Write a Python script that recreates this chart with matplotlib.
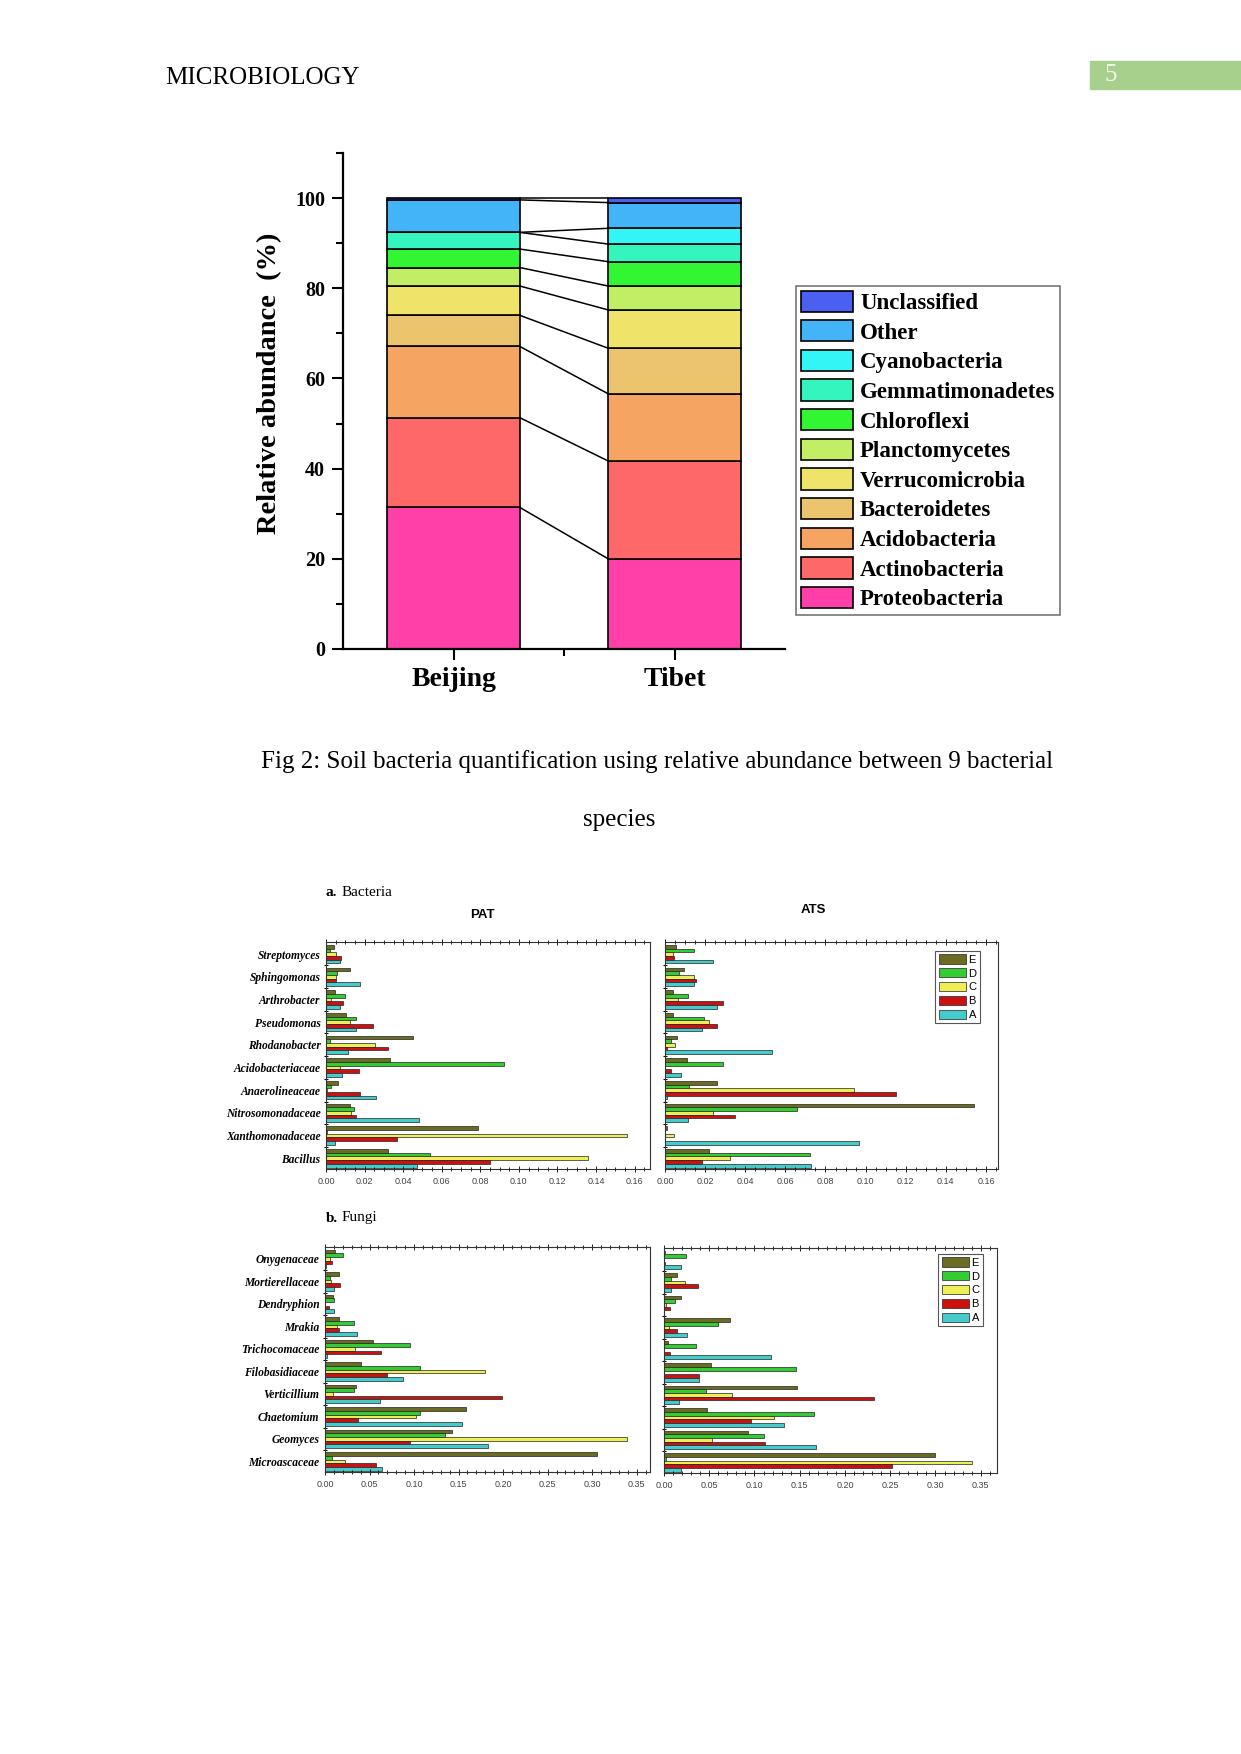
import numpy as np
import matplotlib
matplotlib.use('Agg')
import matplotlib.pyplot as plt
from matplotlib.patches import Rectangle
from matplotlib.ticker import MultipleLocator, FixedLocator

# ---- data: stacked phylum abundance (%), bottom -> top
phyla = ['Proteobacteria', 'Actinobacteria', 'Acidobacteria', 'Bacteroidetes',
         'Verrucomicrobia', 'Planctomycetes', 'Chloroflexi', 'Gemmatimonadetes',
         'Cyanobacteria', 'Other', 'Unclassified']
beijing = [31.4, 19.9, 15.8, 6.9, 6.5, 4.1, 4.1, 3.7, 0.0, 7.2, 0.4]
tibet = [20.0, 21.7, 14.9, 10.1, 8.5, 5.3, 5.4, 3.9, 3.5, 5.7, 1.0]
sites = ['Beijing', 'Tibet']
phyla_colors = ['#fe40a8', '#ff6868', '#f5a462', '#edc46e', '#f0e36a', '#c2ee66',
                '#33f633', '#33f5bd', '#33f5f5', '#44b4f8', '#4b5ff0']

# ---- data: genus/family abundance, groups E..A
series = ['E', 'D', 'C', 'B', 'A']
series_colors = ['#6b6b22', '#33cc33', '#eeee55', '#cc1111', '#44cccc']

bact_cats = ['Streptomyces', 'Sphingomonas', 'Arthrobacter', 'Pseudomonas', 'Rhodanobacter',
             'Acidobacteriaceae', 'Anaerolineaceae', 'Nitrosomonadaceae', 'Xanthomonadaceae', 'Bacillus']
pat_E = [0.004, 0.0125, 0.0045, 0.0104, 0.045, 0.0334, 0.0062, 0.0127, 0.079, 0.032]
pat_D = [0.002, 0.0055, 0.0097, 0.0156, 0.002, 0.0925, 0.0026, 0.0147, 0.0007, 0.054]
pat_C = [0.005, 0.0054, 0.0026, 0.0127, 0.0255, 0.007, 0.0005, 0.013, 0.156, 0.1357]
pat_B = [0.0078, 0.0052, 0.0088, 0.0243, 0.032, 0.017, 0.0178, 0.0158, 0.037, 0.085]
pat_A = [0.007, 0.0175, 0.0075, 0.0158, 0.0114, 0.0081, 0.026, 0.048, 0.0049, 0.047]

ats_E = [0.0053, 0.0093, 0.004, 0.0038, 0.0058, 0.011, 0.0257, 0.154, 0.001, 0.022]
ats_D = [0.0143, 0.0071, 0.0116, 0.0194, 0.0028, 0.0287, 0.0121, 0.066, 0.0, 0.0723]
ats_C = [0.004, 0.0146, 0.0066, 0.022, 0.005, 0.0, 0.094, 0.024, 0.0045, 0.0323]
ats_B = [0.0045, 0.0154, 0.0287, 0.0257, 0.0008, 0.003, 0.115, 0.035, 0.0, 0.0182]
ats_A = [0.024, 0.0144, 0.0259, 0.0186, 0.0534, 0.008, 0.001, 0.0116, 0.0965, 0.0728]

fungi_cats = ['Onygenaceae', 'Mortierellaceae', 'Dendryphion', 'Mrakia', 'Trichocomaceae',
              'Filobasidiaceae', 'Verticillium', 'Chaetomium', 'Geomyces', 'Microascaceae']
fpat_E = [0.011, 0.016, 0.009, 0.0157, 0.054, 0.040, 0.0347, 0.158, 0.143, 0.305]
fpat_D = [0.0205, 0.0056, 0.0105, 0.0325, 0.095, 0.1064, 0.0325, 0.107, 0.135, 0.0075]
fpat_C = [0.0056, 0.007, 0.0, 0.013, 0.034, 0.18, 0.0093, 0.1027, 0.3394, 0.0228]
fpat_B = [0.0082, 0.0168, 0.0049, 0.0153, 0.063, 0.0698, 0.1987, 0.0366, 0.096, 0.0568]
fpat_A = [0.001, 0.0105, 0.01, 0.0355, 0.0026, 0.0874, 0.062, 0.154, 0.183, 0.0642]

fats_E = [0.0015, 0.014, 0.0184, 0.0732, 0.0044, 0.052, 0.147, 0.0478, 0.0923, 0.2998]
fats_D = [0.0243, 0.0077, 0.0121, 0.0592, 0.0353, 0.1464, 0.046, 0.166, 0.1107, 0.002]
fats_C = [0.0, 0.0235, 0.002, 0.005, 0.0, 0.0, 0.075, 0.1218, 0.053, 0.3407]
fats_B = [0.0015, 0.0375, 0.007, 0.0143, 0.0066, 0.0383, 0.2318, 0.0957, 0.1118, 0.2524]
fats_A = [0.019, 0.0081, 0.0, 0.0254, 0.118, 0.039, 0.0162, 0.1328, 0.1685, 0.0191]

W, H = 1241, 1754
fig = plt.figure(figsize=(W / 100, H / 100), dpi=100)
serif = 'Liberation Serif'
sans = 'Liberation Sans'


def box(l, t, r, b):
    # pixel box -> figure fraction
    return [l / W, 1 - b / H, (r - l) / W, (b - t) / H]


# page header
fig.text(165 / W, 1 - 84 / H, 'MICROBIOLOGY', family=serif, fontsize=18, va='baseline')
fig.patches.append(Rectangle((1090 / W, 1 - 89 / H), 151 / W, 28 / H,
                             transform=fig.transFigure, color='#a8d08d', zorder=0))
fig.text(1111 / W, 1 - 75 / H, '5', family=serif, fontsize=18, color='#f4faee',
         ha='center', va='center')

# ---- stacked bar chart
ax = fig.add_axes(box(343, 153, 785, 649))
x = np.arange(len(sites))
bw = 0.6
data = np.array([beijing, tibet])
bottom = np.zeros(len(sites))
for i, name in enumerate(phyla):
    ax.bar(x, data[:, i], bw, bottom=bottom, color=phyla_colors[i],
           edgecolor='black', linewidth=1.2, label=name, zorder=2)
    bottom = bottom + data[:, i]
    # connecting line between the two bars
    ax.plot([x[0] + bw / 2, x[1] - bw / 2], [bottom[0], bottom[1]],
            color='black', linewidth=1.1, zorder=1)

ax.set_xlim(-0.5, 1.5)
ax.set_ylim(0, 110)
for s in ['top', 'right']:
    ax.spines[s].set_visible(False)
for s in ['left', 'bottom']:
    ax.spines[s].set_linewidth(1.6)
ax.set_xticks(x)
ax.set_xticklabels(sites, family=serif, fontweight='bold', fontsize=20)
ax.xaxis.set_minor_locator(FixedLocator([0.5]))
ax.yaxis.set_major_locator(MultipleLocator(20))
ax.yaxis.set_minor_locator(MultipleLocator(10))
ax.tick_params(which='major', length=8, width=1.5, pad=5)
ax.tick_params(which='minor', length=5, width=1.5)
for t in ax.get_yticklabels():
    t.set_family(serif)
    t.set_fontweight('bold')
    t.set_fontsize(14.5)
ax.set_ylabel('Relative abundance  (%)', family=serif, fontweight='bold', fontsize=20.5)
ax.yaxis.set_label_coords(-0.137, 0.535)

handles, labels = ax.get_legend_handles_labels()
leg = fig.legend(handles[::-1], labels[::-1], loc='upper left',
                 bbox_to_anchor=(796 / W, 1 - 286 / H), bbox_transform=fig.transFigure,
                 prop={'family': serif, 'weight': 'bold', 'size': 16.5},
                 handlelength=2.3, handleheight=1.05, labelspacing=0.27,
                 handletextpad=0.3, borderpad=0.2, borderaxespad=0,
                 fancybox=False, edgecolor='#777777', framealpha=1)
leg.get_frame().set_linewidth(1.2)

# caption
fig.text(657 / W, 1 - 762 / H,
         'Fig 2: Soil bacteria quantification using relative abundance between 9 bacterial',
         family=serif, fontsize=18, ha='center', va='center')
fig.text(619 / W, 1 - 820 / H, 'species', family=serif, fontsize=18, ha='center', va='center')


# ---- grouped horizontal bars
def panel(ax, cats, vals, xmax, major, minor, show_cats, legend_anchor):
    n = len(cats)
    y = np.arange(n)
    h = 0.162
    for k, (name, v) in enumerate(zip(series, vals)):
        ax.barh(y + (k - 2) * h, v, h, color=series_colors[k], edgecolor='#222222',
                linewidth=0.5, label=name)
    ax.set_ylim(n - 0.53, -0.53)
    ax.set_xlim(0, xmax)
    ax.xaxis.set_major_locator(MultipleLocator(major))
    ax.xaxis.set_minor_locator(MultipleLocator(minor))
    ax.xaxis.set_major_formatter(plt.FormatStrFormatter('%.2f'))
    ax.tick_params(axis='x', which='both', top=True, direction='inout', labelsize=6.5,
                   labelcolor='#444444', pad=3)
    ax.tick_params(axis='x', which='major', length=5, width=0.6)
    ax.tick_params(axis='x', which='minor', length=3, width=0.6)
    for t in ax.get_xticklabels():
        t.set_family(sans)
    ax.set_yticks(y)
    ax.yaxis.set_minor_locator(FixedLocator(y[:-1] + 0.5))
    ax.tick_params(axis='y', which='major', length=0, pad=4)
    ax.tick_params(axis='y', which='minor', length=3, width=0.8, direction='inout')
    if show_cats:
        ax.set_yticklabels(cats, family=serif, fontweight='bold', style='italic', fontsize=8.3)
    else:
        ax.set_yticklabels([])
    for s in ax.spines.values():
        s.set_linewidth(0.8)
        s.set_color('#333333')
    if legend_anchor is not None:
        lg = ax.legend(loc='upper right', bbox_to_anchor=legend_anchor, prop={'family': sans, 'size': 8},
                       handlelength=2.5, handleheight=0.9, labelspacing=0.3, handletextpad=0.2,
                       borderpad=0.3, borderaxespad=0, fancybox=False, edgecolor='#555555',
                       framealpha=1)
        lg.get_frame().set_linewidth(0.8)


ax1 = fig.add_axes(box(326, 942, 650, 1169))
panel(ax1, bact_cats, [pat_E, pat_D, pat_C, pat_B, pat_A], 0.168, 0.02, 0.005, True, None)
ax2 = fig.add_axes(box(665, 942, 998, 1169))
panel(ax2, bact_cats, [ats_E, ats_D, ats_C, ats_B, ats_A], 0.166, 0.02, 0.005, False, (0.946, 0.96))
ax3 = fig.add_axes(box(325, 1247, 650, 1472))
panel(ax3, fungi_cats, [fpat_E, fpat_D, fpat_C, fpat_B, fpat_A], 0.365, 0.05, 0.01, True, None)
ax4 = fig.add_axes(box(664, 1248, 997, 1473))
panel(ax4, fungi_cats, [fats_E, fats_D, fats_C, fats_B, fats_A], 0.368, 0.05, 0.01, False, (0.958, 0.973))

fig.text(482 / W, 1 - 915 / H, 'PAT', family=sans, fontweight='bold', fontsize=9.5, ha='center', va='center')
fig.text(813 / W, 1 - 910 / H, 'ATS', family=sans, fontweight='bold', fontsize=9.5, ha='center', va='center')
fig.text(326 / W, 1 - 893 / H, 'a.', family=serif, fontweight='bold', fontsize=11, va='center')
fig.text(342 / W, 1 - 893 / H, 'Bacteria', family=serif, fontsize=11, va='center')
fig.text(326 / W, 1 - 1218 / H, 'b.', family=serif, fontweight='bold', fontsize=11, va='center')
fig.text(342 / W, 1 - 1218 / H, 'Fungi', family=serif, fontsize=11, va='center')

fig.savefig('out.png', dpi=100, facecolor='white')
